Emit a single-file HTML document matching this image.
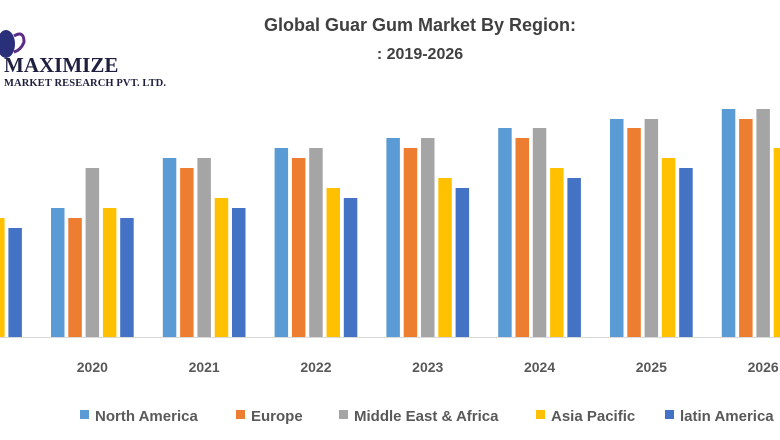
<!DOCTYPE html>
<html><head><meta charset="utf-8"><style>
body{margin:0;background:#fff;width:780px;height:440px;overflow:hidden}
svg{display:block;font-family:"Liberation Sans",sans-serif}
</style></head><body>
<svg id="chart" width="780" height="440" viewBox="0 0 780 440">
<g>
<ellipse cx="6" cy="44" rx="9" ry="14" fill="#2a2f7a"/>
<path d="M14 36 q10 -6 10 6 q-3 8 -10 10" fill="none" stroke="#5b2d86" stroke-width="3"/>
<text x="4" y="72" font-family="Liberation Serif,serif" font-weight="bold" font-size="21" fill="#1f1f3f">MAXIMIZE</text>
<text x="4" y="86" font-family="Liberation Serif,serif" font-weight="bold" font-size="10.5" fill="#1f1f3f" textLength="162">MARKET RESEARCH PVT. LTD.</text>
</g>
<text x="420" y="31" text-anchor="middle" font-weight="bold" font-size="18" fill="#404040">Global Guar Gum Market By Region:</text>
<text x="420" y="59" text-anchor="middle" font-weight="bold" font-size="16" fill="#404040">: 2019-2026</text>
<line x1="0" y1="337.5" x2="780" y2="337.5" stroke="#d9d9d9"/>
<g id="bars"></g>
<g id="xlabels"></g>
<g id="legend"></g>
</svg>
<script>
const years=["2019","2020","2021","2022","2023","2024","2025","2026"];
const seriesNames=["North America","Europe","Middle East & Africa","Asia Pacific","latin America"];
const northAmerica=[11.9,12.9,17.9,18.9,19.9,20.9,21.8,22.8];
const europe=[10.9,11.9,16.9,17.9,18.9,19.9,20.9,21.8];
const middleEast=[14.9,16.9,17.9,18.9,19.9,20.9,21.8,22.8];
const asiaPacific=[11.9,12.9,13.9,14.9,15.9,16.9,17.9,18.9];
const latinAmerica=[10.9,11.9,12.9,13.9,14.9,15.9,16.9,17.9];
const colors=["#5b9bd5","#ed7d31","#a5a5a5","#ffc000","#4472c4"];
const series=[northAmerica,europe,middleEast,asiaPacific,latinAmerica];
const NS="http://www.w3.org/2000/svg";
const baseY=337, pxPerUnit=10, groupStep=111.8, firstGroup=-60.8, barStep=17.3, barW=13.5;
function xScale(gi,si){return firstGroup+gi*groupStep+si*barStep;}
function yScale(v){return baseY-v*pxPerUnit;}
const bars=document.getElementById('bars');
series.forEach((arr,si)=>{arr.forEach((v,gi)=>{
 const r=document.createElementNS(NS,'rect');
 r.setAttribute('x',xScale(gi,si));r.setAttribute('y',yScale(v));
 r.setAttribute('width',barW);r.setAttribute('height',baseY-yScale(v));
 r.setAttribute('fill',colors[si]);
 
 
 bars.appendChild(r);});});
const xl=document.getElementById('xlabels');
years.forEach((y,gi)=>{
 const t=document.createElementNS(NS,'text');
 t.setAttribute('x',xScale(gi,2)+barW/2);t.setAttribute('y',372);
 t.setAttribute('text-anchor','middle');t.setAttribute('font-weight','bold');
 t.setAttribute('font-size','14');t.setAttribute('fill','#595959');
 t.textContent=y;
 
 
 xl.appendChild(t);});
const legX=[80,236,339,536,665];
const lg=document.getElementById('legend');
seriesNames.forEach((n,i)=>{
 const g=document.createElementNS(NS,'g');
 
 
 const r=document.createElementNS(NS,'rect');
 r.setAttribute('x',legX[i]);r.setAttribute('y',410);r.setAttribute('width',9);r.setAttribute('height',9);r.setAttribute('fill',colors[i]);
 const t=document.createElementNS(NS,'text');
 t.setAttribute('x',legX[i]+15);t.setAttribute('y',421);
 t.setAttribute('font-size','15');t.setAttribute('font-weight','bold');t.setAttribute('fill','#595959');
 t.textContent=n;
 g.appendChild(r);g.appendChild(t);lg.appendChild(g);});
</script>
</body></html>
